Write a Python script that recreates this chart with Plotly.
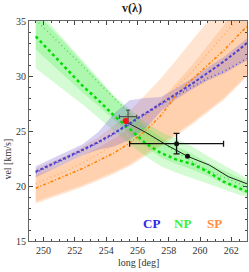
import plotly.graph_objects as go

# ---------------- data ----------------
LONG = [249.5, 250.5, 251.5, 252.5, 253.5, 254.5, 255.5, 256.5, 257.5, 258.5, 259.5, 260.5, 261.5, 262.5, 263.0]

# NP (green)
NP_DASH = [33.6, 32.1, 30.6, 29.1, 27.8, 26.4, 25.2, 23.9, 23.0, 22.4, 22.0, 21.3, 20.4, 19.8, 19.5]
NP_DOT = [35.1, 33.7, 32.3, 30.9, 29.4, 28.0, 26.6, 24.9, 24.0, 23.1, 22.2, 21.4, 20.8, 20.2, 19.9]
NP_OUT_LO = [30.7, 29.6, 28.5, 27.4, 26.2, 25.0, 23.8, 22.7, 21.8, 21.2, 20.7, 20.2, 19.7, 19.2, 19.0]
NP_OUT_HI = [36.5, 34.6, 33.0, 31.4, 29.7, 28.2, 27.0, 25.8, 24.9, 24.3, 23.6, 22.7, 21.9, 21.1, 20.7]
NP_IN_LO = [32.4, 31.1, 29.8, 28.5, 27.3, 26.0, 24.8, 23.6, 22.6, 22.0, 21.5, 20.9, 20.2, 19.6, 19.3]
NP_IN_HI = [35.8, 34.3, 32.8, 31.2, 29.6, 28.1, 26.7, 25.4, 24.4, 23.6, 22.9, 22.1, 21.4, 20.7, 20.4]

# SP (orange)
SP_DASH = [19.8, 20.4, 21.0, 21.6, 22.3, 23.0, 23.9, 25.0, 26.4, 28.3, 29.7, 31.0, 32.3, 33.8, 34.5]
SP_DOT = [20.2, 20.8, 21.4, 22.1, 22.9, 23.8, 24.8, 26.0, 27.5, 29.0, 30.4, 32.0, 33.7, 35.4, 36.2]
SP_OUT_LO = [18.4, 18.9, 19.4, 19.9, 20.5, 21.1, 21.8, 22.7, 23.6, 24.6, 25.6, 26.7, 27.8, 29.2, 30.0]
SP_OUT_HI = [21.6, 22.2, 22.8, 23.6, 24.4, 25.5, 26.8, 28.3, 29.8, 31.5, 33.3, 35.2, 37.0, 38.5, 39.3]
SP_IN_LO = [18.6, 19.1, 19.6, 20.1, 20.7, 21.3, 22.0, 22.9, 23.8, 24.8, 25.8, 26.9, 28.0, 29.4, 30.1]
SP_IN_HI = [21.0, 21.5, 22.1, 22.8, 23.5, 24.3, 25.3, 26.5, 27.8, 29.4, 31.0, 32.8, 34.6, 36.6, 37.5]

# CP (blue)
CP_DASH = [21.3, 21.95, 22.65, 23.3, 24.0, 24.8, 25.7, 26.6, 27.5, 28.4, 29.3, 30.3, 31.3, 32.4, 33.0]
CP_DOT = [21.2, 21.85, 22.55, 23.2, 23.9, 24.7, 25.6, 26.5, 27.4, 28.2, 29.0, 29.8, 30.4, 31.2, 31.6]
CP_OUT_LO = [20.8, 21.45, 22.15, 22.8, 23.3, 23.6, 24.2, 25.2, 26.8, 27.9, 28.8, 29.6, 30.2, 31.0, 31.4]
CP_OUT_HI = [21.8, 22.45, 23.15, 23.8, 24.9, 26.6, 27.8, 28.0, 28.1, 28.9, 29.8, 30.8, 31.7, 32.8, 33.4]

# measured curve and points
CURVE_X = [255.3, 256.5, 257.9, 259.2, 260.6, 261.8, 263.0]
CURVE_Y = [25.8, 24.9, 23.7, 22.7, 21.9, 20.85, 20.2]
RED_X, RED_Y = [255.25], [25.9]
GRAY_X, GRAY_Y, GRAY_EX, GRAY_EY = [255.4], [26.3], [0.55], [0.6]
BLK_X, BLK_Y, BLK_EX, BLK_EY = [258.5], [23.85], [3.0], [0.93]
DOT_X, DOT_Y = [259.2], [22.7]

X_TICKS = [250, 252, 254, 256, 258, 260, 262]
Y_TICKS = [15, 20, 25, 30, 35]
LEGEND = [("CP", 256.9, "#2a2ae8"), ("NP", 258.9, "#3cf03c"), ("SP", 260.9, "#ff8c40")]

# ---------------- figure ----------------
fig = go.Figure()


def band(lo, hi, color):
    fig.add_trace(go.Scatter(x=LONG + LONG[::-1], y=hi + lo[::-1], fill="toself",
                             fillcolor=color, line=dict(width=0), mode="lines",
                             hoverinfo="skip", showlegend=False))


def line(y, color, width, dash):
    fig.add_trace(go.Scatter(x=LONG, y=y, mode="lines",
                             line=dict(color=color, width=width, dash=dash),
                             showlegend=False))


band(SP_OUT_LO, SP_OUT_HI, "rgba(255,150,70,0.25)")
band(SP_IN_LO, SP_IN_HI, "rgba(255,150,70,0.25)")
band(NP_OUT_LO, NP_OUT_HI, "rgba(60,235,60,0.22)")
band(NP_IN_LO, NP_IN_HI, "rgba(60,235,60,0.25)")
band(CP_OUT_LO, CP_OUT_HI, "rgba(110,90,210,0.28)")

line(SP_DOT, "#ffa860", 1.3, "1px,3px")
line(SP_DASH, "#ff8000", 1.5, "3px,2px,1px,2px")
line(NP_DOT, "#55dd55", 1.5, "1px,3px")
line(NP_DASH, "#00dd00", 2.5, "3px,3px")
line(CP_DOT, "#5050ee", 1.5, "1px,3px")
line(CP_DASH, "#5040c8", 2.0, "3px,2px")

fig.add_trace(go.Scatter(x=CURVE_X, y=CURVE_Y, mode="lines",
                         line=dict(color="#222222", width=1), showlegend=False))
fig.add_trace(go.Scatter(x=GRAY_X, y=GRAY_Y, mode="markers",
                         marker=dict(size=1, color="#555555"),
                         error_x=dict(type="data", array=GRAY_EX, color="#555555", thickness=1.2, width=2),
                         error_y=dict(type="data", array=GRAY_EY, color="#555555", thickness=1.2, width=2),
                         showlegend=False))
fig.add_trace(go.Scatter(x=BLK_X, y=BLK_Y, mode="markers",
                         marker=dict(size=5, color="#111111"),
                         error_x=dict(type="data", array=BLK_EX, color="#111111", thickness=1.3, width=3),
                         error_y=dict(type="data", array=BLK_EY, color="#111111", thickness=1.3, width=3),
                         showlegend=False))
fig.add_trace(go.Scatter(x=DOT_X, y=DOT_Y, mode="markers",
                         marker=dict(size=5, color="#111111"), showlegend=False))
fig.add_trace(go.Scatter(x=RED_X, y=RED_Y, mode="markers",
                         marker=dict(size=6, color="#ff1010"), showlegend=False))

for name, xv, col in LEGEND:
    fig.add_annotation(x=xv, y=16.6, text=f"<b>{name}</b>", showarrow=False,
                       xanchor="center", yanchor="middle",
                       font=dict(family="Liberation Serif", size=13, color=col))

fig.add_annotation(xref="paper", yref="paper", x=0.472, y=1.0, yshift=13, text="<b>v(λ)</b>",
                   xanchor="center", yanchor="middle",
                   showarrow=False, font=dict(family="Liberation Serif", size=12, color="#222"))
fig.add_annotation(xref="paper", yref="paper", x=0.5, y=0, yshift=-21, text="long [deg]",
                   xanchor="center", yanchor="middle",
                   showarrow=False, font=dict(family="Liberation Serif", size=10, color="#333"))
fig.add_annotation(xref="paper", yref="paper", x=0, xshift=-21, y=0.37, text="vel [km/s]",
                   xanchor="center", yanchor="middle",
                   textangle=-90, showarrow=False,
                   font=dict(family="Liberation Serif", size=10, color="#333"))

axis_common = dict(showgrid=False, zeroline=False, showline=True, linecolor="#666666",
                   linewidth=1, mirror="ticks", ticks="inside", ticklen=4, tickcolor="#444444",
                   tickfont=dict(family="Liberation Serif", size=10, color="#333333"))
fig.update_xaxes(range=[249.07, 263.0], tickvals=X_TICKS,
                 minor=dict(dtick=0.5, ticks="inside", ticklen=2, tickcolor="#444444"),
                 **axis_common)
fig.update_yaxes(range=[15, 35], tickvals=Y_TICKS,
                 minor=dict(dtick=1, ticks="inside", ticklen=2, tickcolor="#444444"),
                 **axis_common)

fig.update_layout(width=249, height=272, margin=dict(l=29, r=2, t=21, b=31),
                  plot_bgcolor="white", paper_bgcolor="white", showlegend=False)

fig.write_html("out.html", config={"displayModeBar": False},
               post_script="document.body.style.margin='0px';document.body.style.padding='0px';")
